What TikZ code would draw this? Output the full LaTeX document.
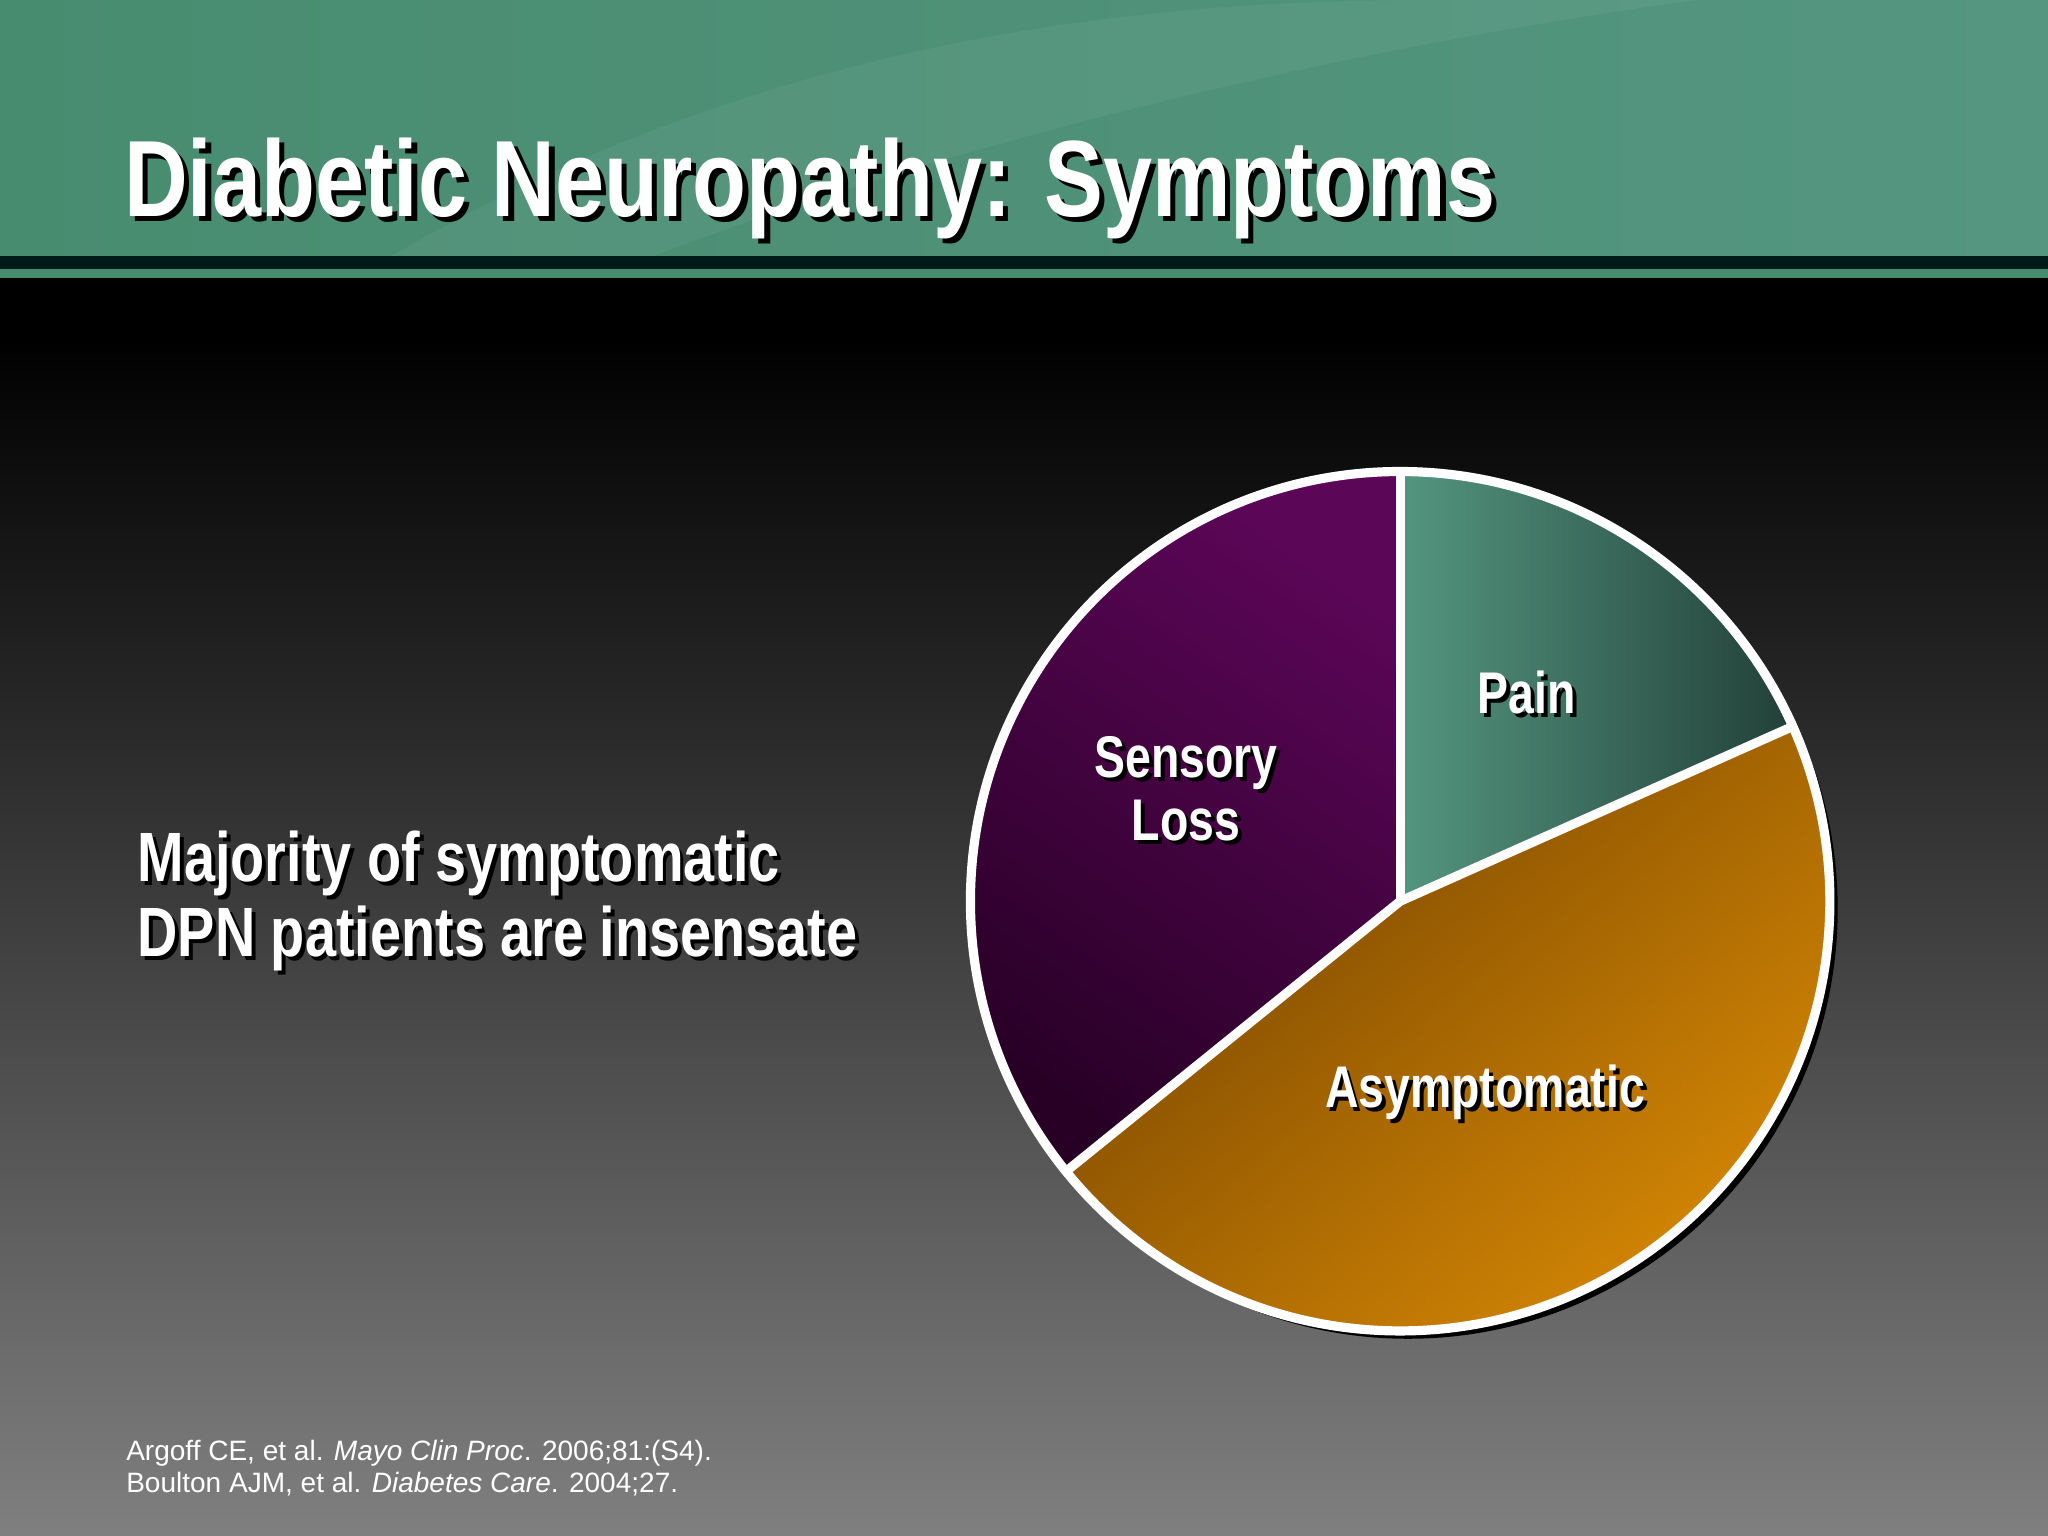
\documentclass[tikz,border=0pt]{standalone}
\usepackage{fontspec}
\setmainfont{Liberation Sans}
\definecolor{hdrA}{RGB}{72,140,112}
\definecolor{hdrB}{RGB}{84,150,128}
\definecolor{painL}{RGB}{84,150,128}
\definecolor{painD}{RGB}{34,64,56}
\definecolor{senL}{RGB}{92,6,88}
\definecolor{senD}{RGB}{40,0,38}
\definecolor{asyL}{RGB}{220,140,5}
\definecolor{asyD}{RGB}{120,70,0}
\begin{document}
\begin{tikzpicture}[x=0.01cm,y=-0.01cm,
  big/.style={font=\bfseries\fontsize{23.6pt}{26pt}\selectfont,xscale=0.814,text=white,inner sep=0pt},
  mid/.style={font=\bfseries\fontsize{15.2pt}{16.4pt}\selectfont,xscale=0.8,text=white,align=center,inner sep=0pt},
  lab/.style={font=\bfseries\fontsize{12.8pt}{13.6pt}\selectfont,xscale=0.79,text=white,align=center,inner sep=0pt},
  shad/.style={text=black},
  slice/.style={draw=white,line width=2pt,line join=round}]
\useasboundingbox (0,0) rectangle (1568,1176);
% background
\fill[black] (0,213) rectangle (1568,260);
\shade[top color=black,bottom color=black!50!white] (0,260) rectangle (1568,1176);
% header
\shade[left color=hdrA,right color=hdrB] (0,0) rectangle (1568,196);
\fill[white,opacity=0.05] (300,196) .. controls (600,20) and (900,0) .. (1100,0) -- (1300,0) .. controls (1000,40) and (700,120) .. (500,196) -- cycle;
\fill[black!80!teal] (0,196) rectangle (1568,206);
\fill[hdrA] (0,206) rectangle (1568,213);
% title
\node[big,shad] (ts) at (624,148) {Diabetic Neuropathy: Symptoms};
\node[big] (t) at (620,144) {Diabetic Neuropathy: Symptoms};
% left text
\node[mid,shad,align=left] (ls) at (384,693) {Majority of symptomatic\\DPN patients are insensate};
\node[mid,align=left] (l) at (381,690) {Majority of symptomatic\\DPN patients are insensate};
% pie
\coordinate (c) at (1072,690);
\coordinate (top) at (1072,361);
\coordinate (pe) at (1373,556);
\coordinate (se) at (816,897);
\fill[black] (1078,696) circle[radius=329];
\shade[left color=painL,right color=painD] (c) -- (top) arc[start angle=-90,end angle=-24,radius=329] -- cycle;
\shade[top color=senL,bottom color=senD,shading angle=-35] (c) -- (top) arc[start angle=-90,end angle=-219,radius=329] -- cycle;
\shade[top color=asyD,bottom color=asyL,shading angle=40] (c) -- (se) arc[start angle=-219,end angle=-384,radius=329] -- cycle;
\draw[slice] (c) circle[radius=329];
\draw[slice] (c) -- (top);
\draw[slice] (c) -- (pe);
\draw[slice] (c) -- (se);
% labels
\node[lab,shad] at (1172,533) {Pain};
\node[lab] (p) at (1169,530) {Pain};
\node[lab,shad] at (911,607) {Sensory\\Loss};
\node[lab] (s) at (908,604) {Sensory\\Loss};
\node[lab,shad] at (1140,839) {Asymptomatic};
\node[lab] (a) at (1137,836) {Asymptomatic};
% refs
\node[anchor=north west,inner sep=0pt,text=white,font=\fontsize{6.1pt}{7pt}\selectfont,align=left] (r) at (96,1102)
 {Argoff CE, et al. \textit{Mayo Clin Proc}. 2006;81:(S4).\\Boulton AJM, et al. \textit{Diabetes Care}. 2004;27.};
\end{tikzpicture}
\end{document}
